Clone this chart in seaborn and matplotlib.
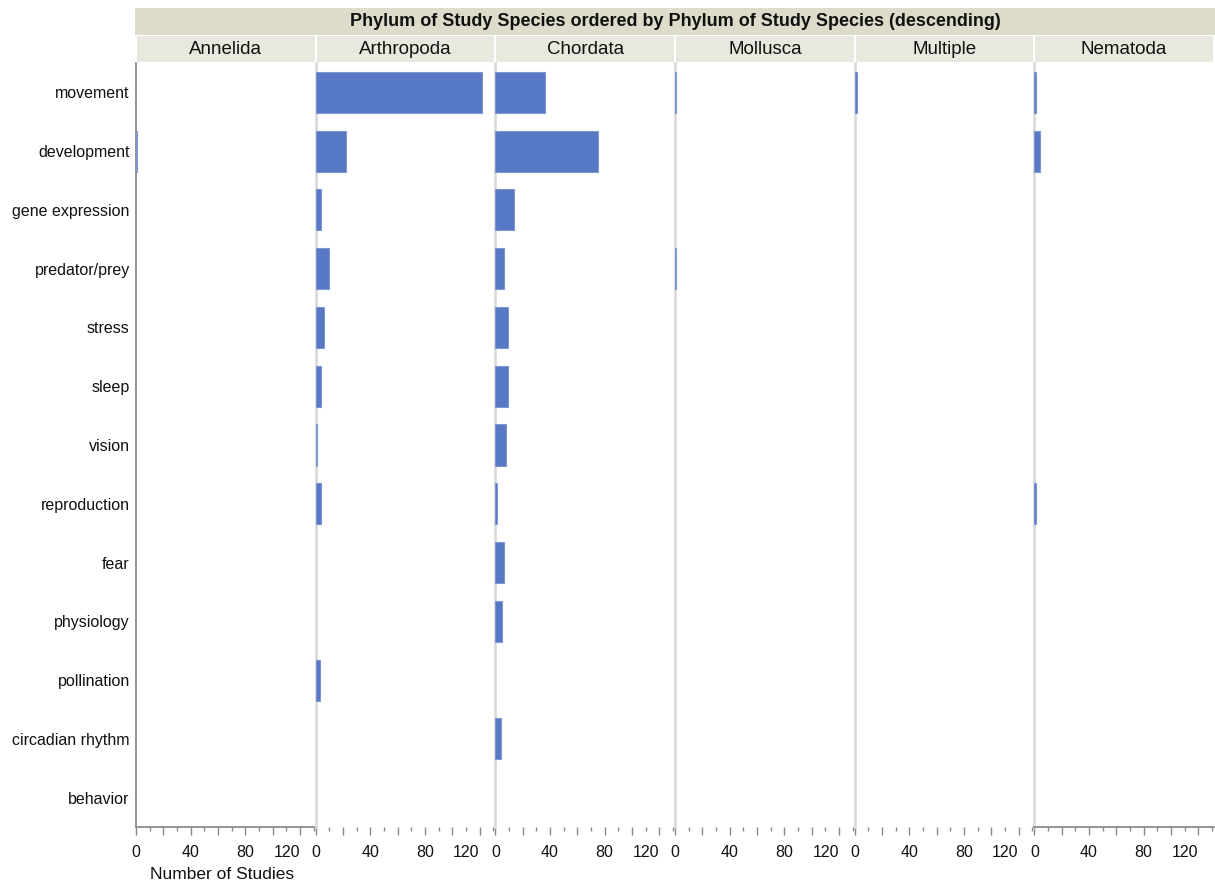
import numpy as np
import pandas as pd
import matplotlib
matplotlib.use("Agg")
import matplotlib.pyplot as plt
import seaborn as sns
from matplotlib.patches import Rectangle
from matplotlib.ticker import FixedLocator

sns.set_theme(style="white")
plt.rcParams["font.family"] = ["Liberation Sans", "DejaVu Sans"]

# ---------------- data ----------------
phyla = ["Annelida", "Arthropoda", "Chordata", "Mollusca", "Multiple", "Nematoda"]
topics = ["movement", "development", "gene expression", "predator/prey", "stress",
          "sleep", "vision", "reproduction", "fear", "physiology", "pollination",
          "circadian rhythm", "behavior"]
annelida   = [0, 1, 0, 0, 0, 0, 0, 0, 0, 0, 0, 0, 0]
arthropoda = [122, 22, 4, 10, 6, 4, 1, 4, 0, 0, 3, 0, 0]
chordata   = [36, 75, 14, 6, 9, 9, 8, 1, 6, 5, 0, 4, 0]
mollusca   = [1, 0, 0, 1, 0, 0, 0, 0, 0, 0, 0, 0, 0]
multiple   = [2, 0, 0, 0, 0, 0, 0, 0, 0, 0, 0, 0, 0]
nematoda   = [1, 4, 0, 0, 0, 0, 0, 1, 0, 0, 0, 0, 0]
x_tick_labels = ["0", "", "40", "", "80", "", "120"]

series = [annelida, arthropoda, chordata, mollusca, multiple, nematoda]
rows = []
for p, vals in zip(phyla, series):
    for t, v in zip(topics, vals):
        rows.append({"phylum": p, "topic": t, "count": v})
df = pd.DataFrame(rows)

# ---------------- layout ----------------
W, H = 1215, 882
fig = plt.figure(figsize=(W / 100, H / 100), dpi=100)
left_px, right_px, top_px, bot_px = 136, 1214, 63, 827
fig.subplots_adjust(left=left_px / W, right=right_px / W,
                    top=1 - top_px / H, bottom=1 - bot_px / H, wspace=0)
axes = fig.subplots(1, len(phyla), sharey=True)

bar_color = "#5778c5"
edge_color = "#7f97d3"
sep_color = "#dadada"
axis_gray = "#8a8a8a"

for i, (ax, p) in enumerate(zip(axes, phyla)):
    sub = df[(df.phylum == p) & (df["count"] > 0)]
    sns.barplot(data=sub, x="count", y="topic", order=topics, orient="h",
                color=bar_color, width=0.7, edgecolor=edge_color, linewidth=0.8,
                saturation=1, ax=ax, errorbar=None)
    for patch in ax.patches:
        patch.set_zorder(4)
    ax.set_xlim(0, 131.5)
    ax.set_ylim(len(topics) - 0.5, -0.5)
    ax.set_ylabel("")
    ax.set_xlabel("")
    ax.xaxis.set_major_locator(FixedLocator([0, 20, 40, 60, 80, 100, 120]))
    ax.xaxis.set_minor_locator(FixedLocator([10, 30, 50, 70, 90, 110, 130]))
    ax.set_xticklabels(x_tick_labels)
    ax.tick_params(axis="x", which="major", bottom=True, length=6, width=1,
                   color=axis_gray, labelsize=11.5, pad=7, labelcolor="#111111")
    ax.tick_params(axis="x", which="minor", bottom=True, length=3, width=1,
                   color=axis_gray)
    for lab in ax.get_xticklabels():
        if lab.get_text() == "120":
            lab.set_horizontalalignment("right")
    for s in ["top", "right"]:
        ax.spines[s].set_visible(False)
    ax.spines["left"].set_zorder(1)
    if i == 0:
        ax.spines["left"].set_color(axis_gray)
        ax.spines["left"].set_linewidth(1.3)
        ax.tick_params(axis="y", left=False, length=0, labelsize=11.5, pad=4.5,
                       labelcolor="#111111")
    else:
        ax.spines["left"].set_color(sep_color)
        ax.spines["left"].set_linewidth(2)
        ax.tick_params(axis="y", left=False, labelleft=False)
    if i in (0, len(phyla) - 1):
        ax.spines["bottom"].set_color(axis_gray)
        ax.spines["bottom"].set_linewidth(1.3)
    else:
        ax.spines["bottom"].set_visible(False)
    ax.grid(False)

axes[0].set_xlabel("Number of Studies", fontsize=12.5, labelpad=6, color="#111111")
axes[0].xaxis.set_label_coords(0.48, -0.052)

# ---------------- header bands ----------------
def fx(x):
    return x / W

def fy(y):
    return 1 - y / H

fig.add_artist(Rectangle((fx(135), fy(35)), fx(1215) - fx(135), fy(8) - fy(35),
                         transform=fig.transFigure, facecolor="#dddbca",
                         edgecolor="none"))
fig.text(fx(675), fy(21.5), "Phylum of Study Species ordered by Phylum of Study Species (descending)",
         ha="center", va="center", fontsize=13, fontweight="bold", color="#111111")

panel_w = (right_px - left_px) / len(phyla)
for i, p in enumerate(phyla):
    x0 = left_px + i * panel_w
    fig.add_artist(Rectangle((fx(x0 + 1), fy(62)), fx(panel_w - 2), fy(36) - fy(62),
                             transform=fig.transFigure, facecolor="#e8e8de",
                             edgecolor="none"))
    fig.text(fx(x0 + panel_w / 2), fy(49), p, ha="center", va="center",
             fontsize=13.5, color="#111111")

fig.savefig("out.png", dpi=100)
